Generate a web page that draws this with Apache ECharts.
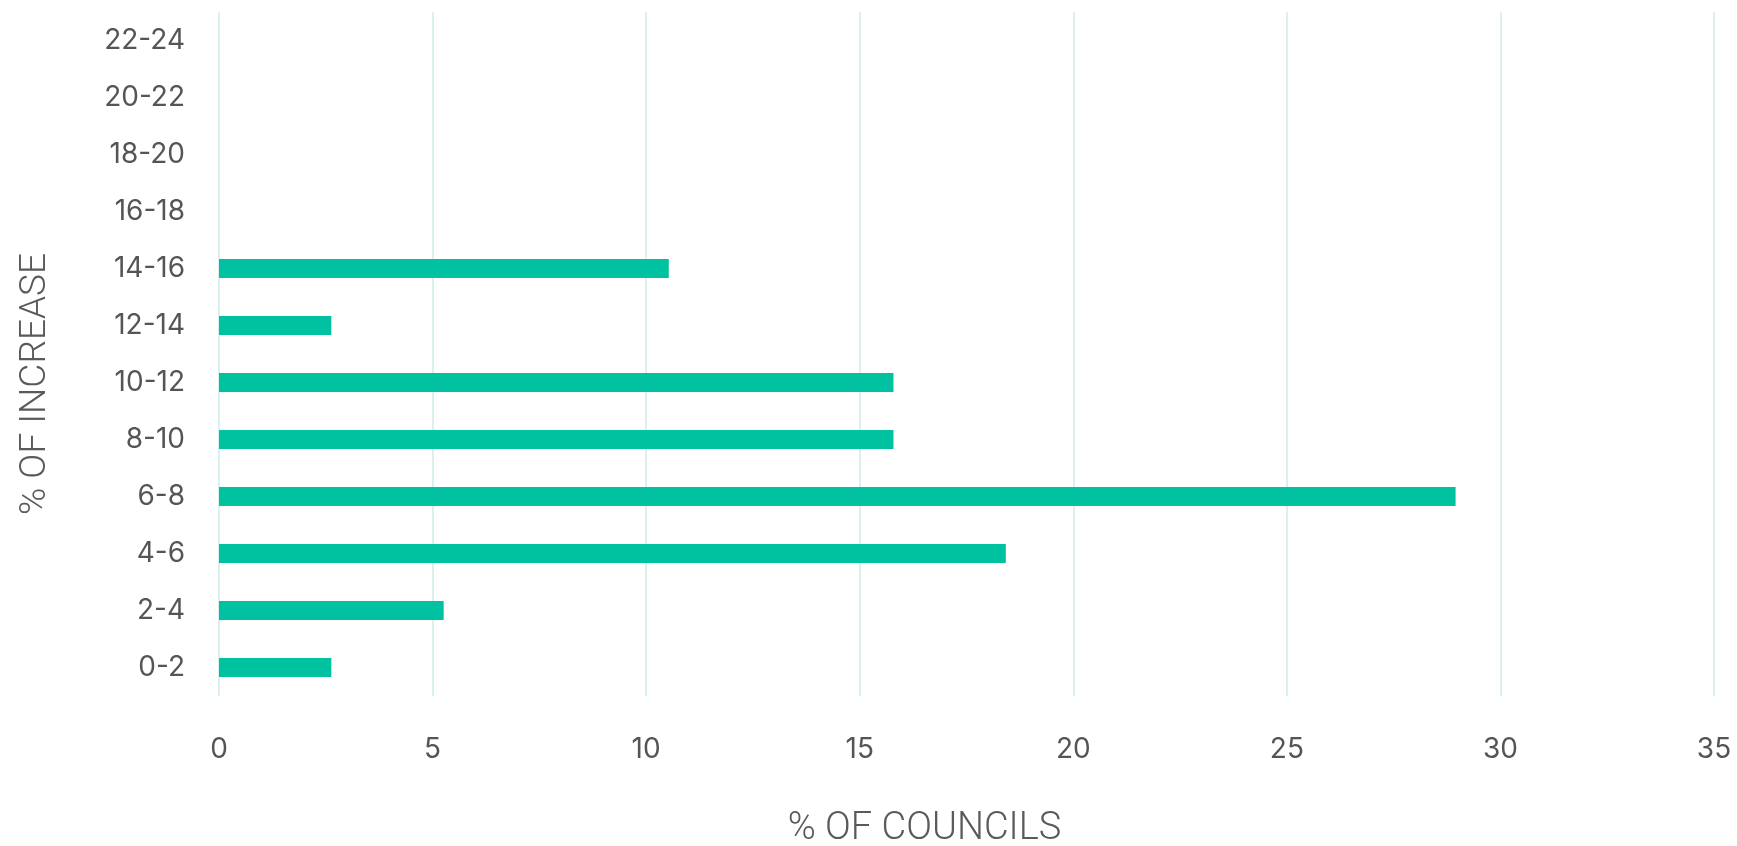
<!DOCTYPE html>
<html>
<head>
<meta charset="utf-8">
<script src="https://cdn.jsdelivr.net/npm/echarts@6/dist/echarts.min.js"></script>
<style>
html,body{margin:0;padding:0;background:#fff;}
#chart{width:1737px;height:846px;}
</style>
</head>
<body>
<div id="chart"></div>
<script>
const categories = ['0-2','2-4','4-6','6-8','8-10','10-12','12-14','14-16','16-18','18-20','20-22','22-24'];
const councilShare = [2.63, 5.26, 18.42, 28.95, 15.79, 15.79, 2.63, 10.53, 0, 0, 0, 0];
const xTicks = [0, 5, 10, 15, 20, 25, 30, 35];

const chart = echarts.init(document.getElementById('chart'), null, {renderer:'canvas'});
chart.setOption({
  animation: false,
  grid: {left: 219, right: 23, top: 12, bottom: 150, containLabel: false, outerBoundsMode: 'none'},
  xAxis: {
    type: 'value',
    min: xTicks[0],
    max: xTicks[xTicks.length-1],
    interval: 5,
    name: '% OF COUNCILS',
    nameLocation: 'middle',
    nameGap: 114,
    nameTextStyle: {fontFamily: 'Roboto', fontWeight: 300, fontSize: 38, color: '#5a5a5a', padding: [0, 84, 0, 0]},
    axisLine: {show: false},
    axisTick: {show: false},
    axisLabel: {margin: 40, fontFamily: 'Inter', fontSize: 28, color: '#555555'},
    splitLine: {show: true, lineStyle: {color: '#cdeee8', width: 1.5}}
  },
  yAxis: {
    type: 'category',
    data: categories,
    name: '% OF INCREASE',
    nameLocation: 'middle',
    nameGap: 165,
    nameRotate: 90,
    nameTextStyle: {fontFamily: 'Roboto', fontWeight: 300, fontSize: 37, color: '#5a5a5a', padding: [0, 60, 0, 0]},
    axisLine: {show: false},
    axisTick: {show: false},
    axisLabel: {margin: 34, fontFamily: 'Inter', fontSize: 28, color: '#555555'},
    splitLine: {show: false}
  },
  series: [{
    type: 'bar',
    data: councilShare,
    barWidth: 19,
    itemStyle: {color: '#00c1a0'},
    silent: true
  }]
});
</script>
</body>
</html>
